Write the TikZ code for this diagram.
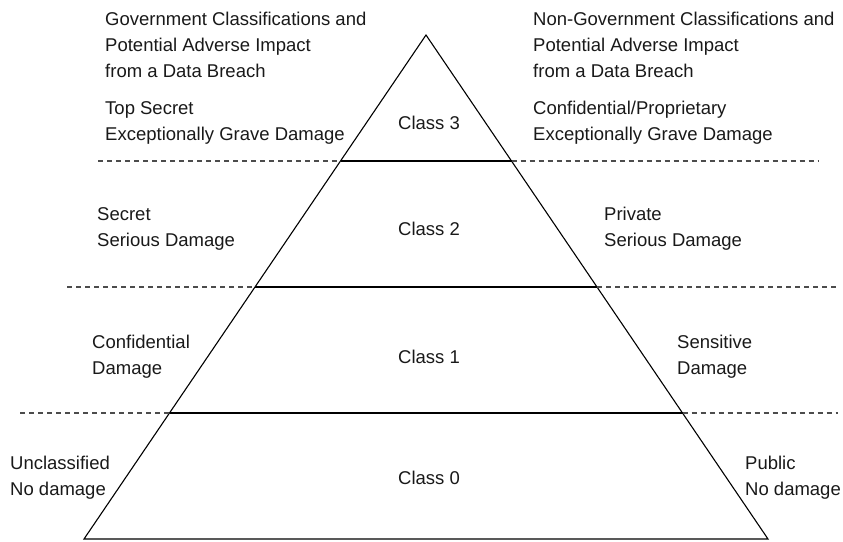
\documentclass[tikz,border=0pt]{standalone}
\usepackage{fontspec}
\setmainfont{Liberation Sans}
\usetikzlibrary{calc}

\begin{document}
\begin{tikzpicture}[x=1pt,y=-1pt,
  lbl/.style={anchor=west,align=left,inner sep=0pt,font=\fontsize{18.5}{26}\selectfont,text=black!90},
  cls/.style={inner sep=0pt,font=\fontsize{18.5}{26}\selectfont,text=black!90},
  edge/.style={line width=1.1pt},
  guide/.style={draw=black!70,line width=1.1pt,dash pattern=on 5pt off 4pt}]
\useasboundingbox (0,0) rectangle (843,541);
\coordinate (apex) at (426,35);
\coordinate (bl) at (84,539);
\coordinate (br) at (768,539);
\draw[edge] (apex) -- (bl) -- (br) -- cycle;
\foreach \t/\n/\a/\b in {0.25/3/98/818,0.5/2/67/837,0.75/1/20/838}{
  \coordinate (l\n) at ($(apex)!\t!(bl)$);
  \coordinate (r\n) at ($(apex)!\t!(br)$);
  \coordinate (gl\n) at (\a,{35+504*\t});
  \coordinate (gr\n) at (\b,{35+504*\t});
  \draw[edge] (l\n) -- (r\n);
  \draw[guide] (gl\n) -- (l\n) (r\n) -- (gr\n);
}
\node[lbl] (govhead) at (105,44.5) {Government Classifications and\\Potential Adverse Impact\\from a Data Breach};
\node[lbl] (nongovhead) at (533,44.5) {Non-Government Classifications and\\Potential Adverse Impact\\from a Data Breach};
\node[lbl] (topsecret) at (105,123) {Top Secret\\Exceptionally Grave Damage};
\node[lbl] (confprop) at (533,123) {Confidential/Proprietary\\Exceptionally Grave Damage};
\node[lbl] (secret) at (97,229) {Secret\\Serious Damage};
\node[lbl] (private) at (604,229) {Private\\Serious Damage};
\node[lbl] (confidential) at (92,357) {Confidential\\Damage};
\node[lbl] (sensitive) at (677,357) {Sensitive\\Damage};
\node[lbl] (unclassified) at (10,478) {Unclassified\\No damage};
\node[lbl] (public) at (745,478) {Public\\No damage};
\node[cls] (class3) at (429,123) {Class 3};
\node[cls] (class2) at (429,229) {Class 2};
\node[cls] (class1) at (429,357) {Class 1};
\node[cls] (class0) at (429,478) {Class 0};
\end{tikzpicture}
\end{document}
